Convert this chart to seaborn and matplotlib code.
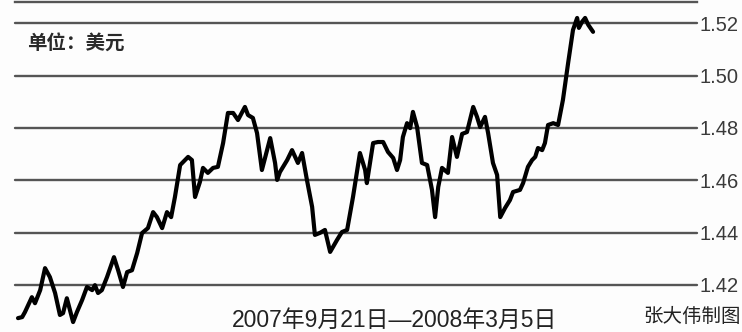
import matplotlib
matplotlib.use("Agg")
import matplotlib.pyplot as plt
import seaborn as sns
import pandas as pd

# days since 2007-09-21
days = [0.0, 1.2, 2.0, 4.0, 4.9, 6.4, 7.8, 9.2, 10.7, 12.1, 13.0, 14.1, 15.0, 15.9, 17.0,
        18.5, 19.9, 21.4, 22.2, 23.1, 24.2, 25.7, 27.7, 28.9, 30.3, 31.5, 32.9, 34.4, 35.8,
        37.5, 39.0, 40.1, 41.6, 43.0, 44.2, 45.3, 46.8, 49.1, 50.2, 51.1, 52.5, 53.4, 54.8,
        56.3, 57.7, 59.2, 60.6, 62.1, 63.5, 65.5, 66.4, 67.8, 69.0, 70.4, 71.3, 72.8, 74.2,
        74.8, 75.6, 77.7, 79.1, 80.0, 80.8, 82.0, 83.4, 84.9, 85.7, 87.2, 88.6, 90.1, 92.1,
        93.5, 95.0, 96.7, 98.7, 100.2, 100.7, 101.6, 102.5, 103.9, 105.4, 106.8, 108.3,
        109.4, 110.3, 111.1, 112.3, 113.2, 114.0, 115.2, 116.6, 118.1, 119.5, 120.4, 121.3,
        122.4, 124.1, 125.3, 126.7, 128.2, 129.6, 131.4, 132.5, 133.4, 134.8, 135.7, 137.1,
        138.3, 139.2, 140.6, 142.0, 142.9, 144.9, 145.8, 147.2, 148.4, 149.3, 150.1, 151.3,
        152.1, 153.0, 154.5, 155.9, 157.3, 158.8, 160.2, 161.4, 161.9, 162.8, 163.7, 164.6,
        166.0]

rate = [1.4073, 1.4077, 1.4096, 1.4153, 1.4130, 1.4180, 1.4264, 1.4230, 1.4169, 1.4085,
        1.4092, 1.4149, 1.4104, 1.4058, 1.4096, 1.4142, 1.4192, 1.4180, 1.4199, 1.4169,
        1.4180, 1.4230, 1.4306, 1.4256, 1.4192, 1.4249, 1.4256, 1.4322, 1.4398, 1.4417,
        1.4478, 1.4459, 1.4417, 1.4478, 1.4459, 1.4536, 1.4658, 1.4689, 1.4677, 1.4536,
        1.4593, 1.4647, 1.4628, 1.4647, 1.4651, 1.4742, 1.4857, 1.4857, 1.4830, 1.4880,
        1.4849, 1.4838, 1.4780, 1.4639, 1.4685, 1.4761, 1.4666, 1.4601, 1.4631, 1.4677,
        1.4715, 1.4689, 1.4666, 1.4704, 1.4601, 1.4498, 1.4391, 1.4399, 1.4410, 1.4326,
        1.4372, 1.4402, 1.4410, 1.4536, 1.4704, 1.4639, 1.4589, 1.4666, 1.4742, 1.4746,
        1.4746, 1.4708, 1.4685, 1.4639, 1.4677, 1.4765, 1.4818, 1.4799, 1.4861, 1.4803,
        1.4666, 1.4658, 1.4563, 1.4459, 1.4574, 1.4647, 1.4628, 1.4765, 1.4689, 1.4777,
        1.4784, 1.4880, 1.4842, 1.4803, 1.4842, 1.4780, 1.4666, 1.4620, 1.4459, 1.4494,
        1.4524, 1.4555, 1.4563, 1.4589, 1.4651, 1.4677, 1.4689, 1.4723, 1.4715, 1.4742,
        1.4811, 1.4818, 1.4811, 1.4907, 1.5048, 1.5174, 1.5220, 1.5182, 1.5205, 1.5220,
        1.5194, 1.5167]

yticks = [1.42, 1.44, 1.46, 1.48, 1.50, 1.52]
ytick_labels = ["1.42", "1.44", "1.46", "1.48", "1.50", "1.52"]
unit_text = "单位：美元"
period_text = "2007年9月21日—2008年3月5日"
credit_text = "张大伟制图"

sns.set_style("white")
plt.rcParams['font.family'] = ['Noto Sans CJK SC', 'DejaVu Sans']

df = pd.DataFrame({"day": days, "rate": rate})

fig = plt.figure(figsize=(7.42, 3.32), dpi=100, facecolor="#fdfdfd")
ax = fig.add_axes([15 / 742, 0.0, (697 - 15) / 742, 330 / 332])
ax.set_facecolor("#fdfdfd")

for v in yticks:
    ax.axhline(v, color="#555555", linewidth=1.7, zorder=1, clip_on=False)

sns.lineplot(data=df, x="day", y="rate", ax=ax, color="black", linewidth=3.0,
             zorder=3, sort=False)

ax.set_xlim(-0.87, 196.0)
ax.set_ylim(1.4020, 1.5281)
ax.set_xlabel("")
ax.set_ylabel("")
ax.set_xticks([])
ax.yaxis.tick_right()
ax.set_yticks(yticks)
ax.set_yticklabels(ytick_labels, fontsize=14.5, color="#3a3a3a",
                   family=['Liberation Sans', 'DejaVu Sans'])
ax.tick_params(axis="y", length=0, pad=2)
for s in ["left", "right", "bottom"]:
    ax.spines[s].set_visible(False)
ax.spines["top"].set_color("#555555")
ax.spines["top"].set_linewidth(1.7)

fig.text(27 / 742, 1 - 44 / 332, unit_text, fontsize=14, color="#2a2a2a",
         va="center", ha="left", fontweight="bold")
fig.text(395 / 742, 1 - 320 / 332, period_text, fontsize=16.5, color="#222222",
         va="center", ha="center", fontweight="medium",
         family=['Liberation Sans', 'Noto Sans CJK SC'])
fig.text(643 / 742, 1 - 316 / 332, credit_text, fontsize=14, color="#222222",
         va="center", ha="left")

fig.savefig("out.png", dpi=100, facecolor=fig.get_facecolor())
